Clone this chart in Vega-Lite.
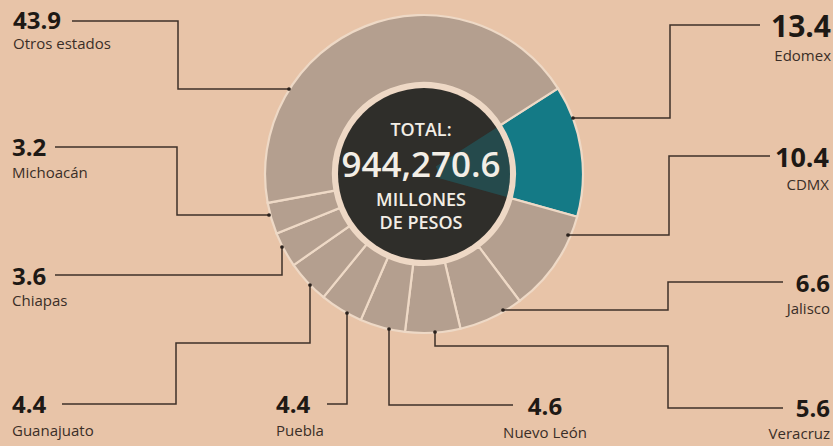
{
  "$schema": "https://vega.github.io/schema/vega-lite/v6.json",
  "width": 833,
  "height": 446,
  "autosize": "none",
  "padding": 0,
  "background": "#e8c4a8",
  "config": {"view": {"stroke": null}, "font": "Open Sans"},
  "datasets": {
    "estados": [
      {"estado": "Edomex", "valor": 13.4, "orden": 1},
      {"estado": "CDMX", "valor": 10.4, "orden": 2},
      {"estado": "Jalisco", "valor": 6.6, "orden": 3},
      {"estado": "Veracruz", "valor": 5.6, "orden": 4},
      {"estado": "Nuevo León", "valor": 4.6, "orden": 5},
      {"estado": "Puebla", "valor": 4.4, "orden": 6},
      {"estado": "Guanajuato", "valor": 4.4, "orden": 7},
      {"estado": "Chiapas", "valor": 3.6, "orden": 8},
      {"estado": "Michoacán", "valor": 3.2, "orden": 9},
      {"estado": "Otros estados", "valor": 43.9, "orden": 10}
    ],
    "rotulos": [
      {"estado": "Otros estados", "lado": "izq", "x": 13, "yv": 29, "yn": 49},
      {"estado": "Michoacán", "lado": "izq", "x": 12, "yv": 156, "yn": 178},
      {"estado": "Chiapas", "lado": "izq", "x": 12, "yv": 285, "yn": 306},
      {"estado": "Guanajuato", "lado": "izq", "x": 12, "yv": 413, "yn": 436},
      {"estado": "Puebla", "lado": "izq", "x": 276, "yv": 413, "yn": 436},
      {"estado": "Nuevo León", "lado": "centro", "x": 545, "yv": 415, "yn": 438},
      {"estado": "Veracruz", "lado": "der", "x": 830, "yv": 417, "yn": 439},
      {"estado": "Jalisco", "lado": "der", "x": 830, "yv": 292, "yn": 314},
      {"estado": "CDMX", "lado": "der", "x": 829, "yv": 167, "yn": 190},
      {"estado": "Edomex", "lado": "der", "x": 831, "yv": 37, "yn": 61}
    ],
    "guias": [
      {"estado": "Otros estados", "paso": 0, "x": 289, "y": 89},
      {"estado": "Otros estados", "paso": 1, "x": 178, "y": 89},
      {"estado": "Otros estados", "paso": 2, "x": 178, "y": 21},
      {"estado": "Otros estados", "paso": 3, "x": 72, "y": 21},
      {"estado": "Michoacán", "paso": 0, "x": 269, "y": 215},
      {"estado": "Michoacán", "paso": 1, "x": 177, "y": 215},
      {"estado": "Michoacán", "paso": 2, "x": 177, "y": 147},
      {"estado": "Michoacán", "paso": 3, "x": 55, "y": 147},
      {"estado": "Chiapas", "paso": 0, "x": 282, "y": 247},
      {"estado": "Chiapas", "paso": 1, "x": 282, "y": 275},
      {"estado": "Chiapas", "paso": 2, "x": 55, "y": 275},
      {"estado": "Guanajuato", "paso": 0, "x": 310, "y": 285},
      {"estado": "Guanajuato", "paso": 1, "x": 310, "y": 343},
      {"estado": "Guanajuato", "paso": 2, "x": 176, "y": 343},
      {"estado": "Guanajuato", "paso": 3, "x": 176, "y": 404},
      {"estado": "Guanajuato", "paso": 4, "x": 62, "y": 404},
      {"estado": "Puebla", "paso": 0, "x": 347, "y": 313},
      {"estado": "Puebla", "paso": 1, "x": 347, "y": 404},
      {"estado": "Puebla", "paso": 2, "x": 327, "y": 404},
      {"estado": "Nuevo León", "paso": 0, "x": 389, "y": 329},
      {"estado": "Nuevo León", "paso": 1, "x": 389, "y": 405},
      {"estado": "Nuevo León", "paso": 2, "x": 513, "y": 405},
      {"estado": "Veracruz", "paso": 0, "x": 435, "y": 332},
      {"estado": "Veracruz", "paso": 1, "x": 435, "y": 346},
      {"estado": "Veracruz", "paso": 2, "x": 668, "y": 346},
      {"estado": "Veracruz", "paso": 3, "x": 668, "y": 408},
      {"estado": "Veracruz", "paso": 4, "x": 783, "y": 408},
      {"estado": "Jalisco", "paso": 0, "x": 503, "y": 310},
      {"estado": "Jalisco", "paso": 1, "x": 668, "y": 310},
      {"estado": "Jalisco", "paso": 2, "x": 668, "y": 282},
      {"estado": "Jalisco", "paso": 3, "x": 783, "y": 282},
      {"estado": "CDMX", "paso": 0, "x": 568, "y": 235},
      {"estado": "CDMX", "paso": 1, "x": 669, "y": 235},
      {"estado": "CDMX", "paso": 2, "x": 669, "y": 156},
      {"estado": "CDMX", "paso": 3, "x": 770, "y": 156},
      {"estado": "Edomex", "paso": 0, "x": 573, "y": 118},
      {"estado": "Edomex", "paso": 1, "x": 670, "y": 118},
      {"estado": "Edomex", "paso": 2, "x": 670, "y": 25},
      {"estado": "Edomex", "paso": 3, "x": 760, "y": 25}
    ]
  },
  "layer": [
    {
      "data": {"name": "estados"},
      "mark": {"type": "arc", "outerRadius": 159, "innerRadius": 91, "stroke": "#eed9c6", "strokeWidth": 2.2},
      "encoding": {
        "x": {"datum": 424, "type": "quantitative", "scale": {"domain": [0, 833], "nice": false, "zero": false}, "axis": null},
        "y": {"datum": 174, "type": "quantitative", "scale": {"domain": [0, 446], "reverse": true, "nice": false, "zero": false}, "axis": null},
        "theta": {"field": "valor", "type": "quantitative", "stack": true, "scale": {"range": [1.0018, 7.2850]}},
        "order": {"field": "orden", "type": "quantitative"},
        "detail": {"field": "estado"},
        "color": {"condition": {"test": "datum.estado === 'Edomex'", "value": "#147a86"}, "value": "#b49f8f"}
      }
    },
    {
      "data": {"values": [{}]},
      "mark": {"type": "arc", "theta": 0, "theta2": 6.2832, "outerRadius": 91, "innerRadius": 0, "fill": "#eed8c5"},
      "encoding": {
        "x": {"datum": 424, "type": "quantitative", "scale": {"domain": [0, 833], "nice": false, "zero": false}, "axis": null},
        "y": {"datum": 174, "type": "quantitative", "scale": {"domain": [0, 446], "reverse": true, "nice": false, "zero": false}, "axis": null}
      }
    },
    {
      "data": {"values": [{}]},
      "mark": {"type": "arc", "theta": 0, "theta2": 6.2832, "outerRadius": 86, "innerRadius": 0, "fill": "#2f2e2a"},
      "encoding": {
        "x": {"datum": 424, "type": "quantitative", "scale": {"domain": [0, 833], "nice": false, "zero": false}, "axis": null},
        "y": {"datum": 174, "type": "quantitative", "scale": {"domain": [0, 446], "reverse": true, "nice": false, "zero": false}, "axis": null}
      }
    },
    {
      "data": {"name": "estados"},
      "mark": {"type": "arc", "outerRadius": 86, "innerRadius": 14, "fill": "#167680"},
      "encoding": {
        "x": {"datum": 424, "type": "quantitative", "scale": {"domain": [0, 833], "nice": false, "zero": false}, "axis": null},
        "y": {"datum": 174, "type": "quantitative", "scale": {"domain": [0, 446], "reverse": true, "nice": false, "zero": false}, "axis": null},
        "theta": {"field": "valor", "type": "quantitative", "stack": true, "scale": {"range": [1.0018, 7.2850]}},
        "order": {"field": "orden", "type": "quantitative"},
        "detail": {"field": "estado"},
        "opacity": {"condition": {"test": "datum.estado === 'Edomex'", "value": 0.4}, "value": 0}
      }
    },
    {
      "data": {"values": [{}]},
      "mark": {"type": "text", "text": "TOTAL:", "fontSize": 18, "fontWeight": 600, "color": "#f3eee6", "align": "center", "baseline": "alphabetic"},
      "encoding": {
        "x": {"datum": 421, "type": "quantitative", "scale": {"domain": [0, 833], "nice": false, "zero": false}, "axis": null},
        "y": {"datum": 136, "type": "quantitative", "scale": {"domain": [0, 446], "reverse": true, "nice": false, "zero": false}, "axis": null}
      }
    },
    {
      "data": {"values": [{}]},
      "mark": {"type": "text", "text": "944,270.6", "fontSize": 35, "fontWeight": 600, "color": "#f3eee6", "align": "center", "baseline": "alphabetic"},
      "encoding": {
        "x": {"datum": 421, "type": "quantitative", "scale": {"domain": [0, 833], "nice": false, "zero": false}, "axis": null},
        "y": {"datum": 177, "type": "quantitative", "scale": {"domain": [0, 446], "reverse": true, "nice": false, "zero": false}, "axis": null}
      }
    },
    {
      "data": {"values": [{}]},
      "mark": {"type": "text", "text": "MILLONES", "fontSize": 18, "fontWeight": 600, "color": "#f3eee6", "align": "center", "baseline": "alphabetic"},
      "encoding": {
        "x": {"datum": 421, "type": "quantitative", "scale": {"domain": [0, 833], "nice": false, "zero": false}, "axis": null},
        "y": {"datum": 206, "type": "quantitative", "scale": {"domain": [0, 446], "reverse": true, "nice": false, "zero": false}, "axis": null}
      }
    },
    {
      "data": {"values": [{}]},
      "mark": {"type": "text", "text": "DE PESOS", "fontSize": 18, "fontWeight": 600, "color": "#f3eee6", "align": "center", "baseline": "alphabetic"},
      "encoding": {
        "x": {"datum": 421, "type": "quantitative", "scale": {"domain": [0, 833], "nice": false, "zero": false}, "axis": null},
        "y": {"datum": 229, "type": "quantitative", "scale": {"domain": [0, 446], "reverse": true, "nice": false, "zero": false}, "axis": null}
      }
    },
    {
      "data": {"name": "guias"},
      "mark": {"type": "line", "color": "#3e3129", "strokeWidth": 1.5},
      "encoding": {
        "x": {"field": "x", "type": "quantitative", "scale": {"domain": [0, 833], "nice": false, "zero": false}, "axis": null},
        "y": {"field": "y", "type": "quantitative", "scale": {"domain": [0, 446], "reverse": true, "nice": false, "zero": false}, "axis": null},
        "detail": {"field": "estado"},
        "order": {"field": "paso", "type": "quantitative"}
      }
    },
    {
      "data": {"name": "guias"},
      "transform": [{"filter": "datum.paso === 0"}],
      "mark": {"type": "point", "filled": true, "color": "#2a211c", "size": 14, "opacity": 1},
      "encoding": {
        "x": {"field": "x", "type": "quantitative", "scale": {"domain": [0, 833], "nice": false, "zero": false}, "axis": null},
        "y": {"field": "y", "type": "quantitative", "scale": {"domain": [0, 446], "reverse": true, "nice": false, "zero": false}, "axis": null}
      }
    },
    {
      "data": {"name": "rotulos"},
      "transform": [
        {"lookup": "estado", "from": {"data": {"name": "estados"}, "key": "estado", "fields": ["valor"]}},
        {"filter": "datum.lado === 'izq'"}
      ],
      "layer": [
        {
          "mark": {"type": "text", "align": "left", "baseline": "alphabetic", "fontWeight": "bold", "color": "#1e1915", "fontSize": 24},
          "encoding": {
            "x": {"field": "x", "type": "quantitative", "scale": {"domain": [0, 833], "nice": false, "zero": false}, "axis": null},
            "y": {"field": "yv", "type": "quantitative", "scale": {"domain": [0, 446], "reverse": true, "nice": false, "zero": false}, "axis": null},
            "text": {"field": "valor", "type": "quantitative", "format": ".1f"}
          }
        },
        {
          "mark": {"type": "text", "align": "left", "baseline": "alphabetic", "color": "#3a2e27", "fontSize": 15},
          "encoding": {
            "x": {"field": "x", "type": "quantitative", "scale": {"domain": [0, 833], "nice": false, "zero": false}, "axis": null},
            "y": {"field": "yn", "type": "quantitative", "scale": {"domain": [0, 446], "reverse": true, "nice": false, "zero": false}, "axis": null},
            "text": {"field": "estado", "type": "nominal"}
          }
        }
      ]
    },
    {
      "data": {"name": "rotulos"},
      "transform": [
        {"lookup": "estado", "from": {"data": {"name": "estados"}, "key": "estado", "fields": ["valor"]}},
        {"filter": "datum.lado === 'centro'"}
      ],
      "layer": [
        {
          "mark": {"type": "text", "align": "center", "baseline": "alphabetic", "fontWeight": "bold", "color": "#1e1915", "fontSize": 24},
          "encoding": {
            "x": {"field": "x", "type": "quantitative", "scale": {"domain": [0, 833], "nice": false, "zero": false}, "axis": null},
            "y": {"field": "yv", "type": "quantitative", "scale": {"domain": [0, 446], "reverse": true, "nice": false, "zero": false}, "axis": null},
            "text": {"field": "valor", "type": "quantitative", "format": ".1f"}
          }
        },
        {
          "mark": {"type": "text", "align": "center", "baseline": "alphabetic", "color": "#3a2e27", "fontSize": 15},
          "encoding": {
            "x": {"field": "x", "type": "quantitative", "scale": {"domain": [0, 833], "nice": false, "zero": false}, "axis": null},
            "y": {"field": "yn", "type": "quantitative", "scale": {"domain": [0, 446], "reverse": true, "nice": false, "zero": false}, "axis": null},
            "text": {"field": "estado", "type": "nominal"}
          }
        }
      ]
    },
    {
      "data": {"name": "rotulos"},
      "transform": [
        {"lookup": "estado", "from": {"data": {"name": "estados"}, "key": "estado", "fields": ["valor"]}},
        {"filter": "datum.lado === 'der'"}
      ],
      "layer": [
        {
          "mark": {"type": "text", "align": "right", "baseline": "alphabetic", "fontWeight": "bold", "color": "#1e1915"},
          "encoding": {
            "x": {"field": "x", "type": "quantitative", "scale": {"domain": [0, 833], "nice": false, "zero": false}, "axis": null},
            "y": {"field": "yv", "type": "quantitative", "scale": {"domain": [0, 446], "reverse": true, "nice": false, "zero": false}, "axis": null},
            "text": {"field": "valor", "type": "quantitative", "format": ".1f"},
            "size": {"condition": [{"test": "datum.estado === 'Edomex'", "value": 30}, {"test": "datum.estado === 'CDMX'", "value": 27}], "value": 24}
          }
        },
        {
          "mark": {"type": "text", "align": "right", "baseline": "alphabetic", "color": "#3a2e27", "fontSize": 15},
          "encoding": {
            "x": {"field": "x", "type": "quantitative", "scale": {"domain": [0, 833], "nice": false, "zero": false}, "axis": null},
            "y": {"field": "yn", "type": "quantitative", "scale": {"domain": [0, 446], "reverse": true, "nice": false, "zero": false}, "axis": null},
            "text": {"field": "estado", "type": "nominal"}
          }
        }
      ]
    }
  ]
}
